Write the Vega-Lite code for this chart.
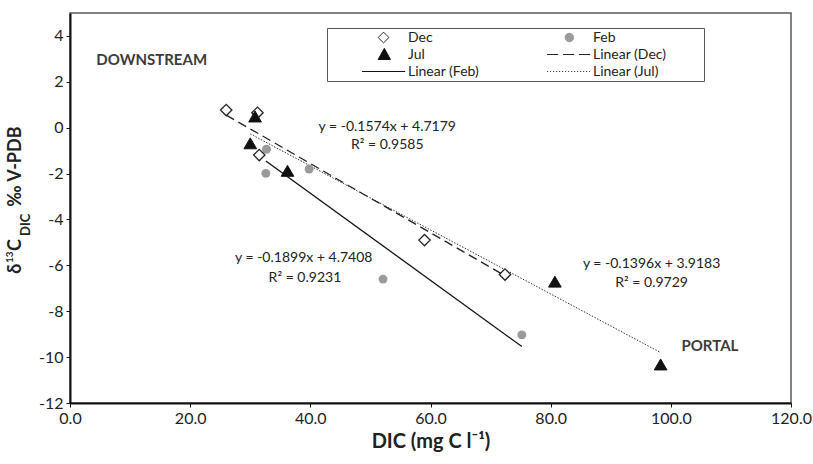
{
  "$schema": "https://vega.github.io/schema/vega-lite/v6.json",
  "width": 721,
  "height": 390,
  "autosize": {"type": "none"},
  "padding": {"left": 70, "top": 13, "right": 22, "bottom": 61},
  "background": "white",
  "config": {
    "view": {"stroke": "#5a5a5a", "strokeWidth": 1.5},
    "font": "Lato"
  },
  "datasets": {
    "points": [
      {"month": "Dec", "dic": 26.0, "d13c": 0.77},
      {"month": "Dec", "dic": 31.2, "d13c": 0.65},
      {"month": "Dec", "dic": 31.5, "d13c": -1.19},
      {"month": "Dec", "dic": 59.0, "d13c": -4.9},
      {"month": "Dec", "dic": 72.4, "d13c": -6.4},
      {"month": "Feb", "dic": 32.7, "d13c": -0.94},
      {"month": "Feb", "dic": 32.6, "d13c": -1.99},
      {"month": "Feb", "dic": 39.8, "d13c": -1.8},
      {"month": "Feb", "dic": 52.1, "d13c": -6.6},
      {"month": "Feb", "dic": 75.2, "d13c": -9.03},
      {"month": "Jul", "dic": 30.8, "d13c": 0.49},
      {"month": "Jul", "dic": 30.0, "d13c": -0.68},
      {"month": "Jul", "dic": 36.2, "d13c": -1.88},
      {"month": "Jul", "dic": 80.7, "d13c": -6.71},
      {"month": "Jul", "dic": 98.3, "d13c": -10.32}
    ],
    "trends": [
      {"fit": "Linear (Dec)", "dic": 26.0, "d13c": 0.55},
      {"fit": "Linear (Dec)", "dic": 72.4, "d13c": -6.45},
      {"fit": "Linear (Feb)", "dic": 32.6, "d13c": -1.45},
      {"fit": "Linear (Feb)", "dic": 75.2, "d13c": -9.54},
      {"fit": "Linear (Jul)", "dic": 30.0, "d13c": -0.27},
      {"fit": "Linear (Jul)", "dic": 98.3, "d13c": -9.8}
    ],
    "equations": [
      {"label": "y = -0.1574x + 4.7179", "dic": 52.8, "d13c": 0.03},
      {"label": "R² = 0.9585", "dic": 52.8, "d13c": -0.75},
      {"label": "y = -0.1899x + 4.7408", "dic": 38.9, "d13c": -5.68},
      {"label": "R² = 0.9231", "dic": 39.1, "d13c": -6.55},
      {"label": "y = -0.1396x + 3.9183", "dic": 96.8, "d13c": -5.94},
      {"label": "R² = 0.9729", "dic": 96.8, "d13c": -6.77}
    ],
    "sites": [
      {"label": "DOWNSTREAM", "dic": 13.6, "d13c": 2.95},
      {"label": "PORTAL", "dic": 106.5, "d13c": -9.51}
    ],
    "ytitle": [
      {"t": "δ", "dic": -9.0, "d13c": -6.37},
      {"t": "C", "dic": -9.0, "d13c": -5.37},
      {"t": "‰ V-PDB", "dic": -9.0, "d13c": -3.45}
    ],
    "ytitlesup": [
      {"t": "13", "dic": -10.0, "d13c": -5.9}
    ],
    "ytitlesub": [
      {"t": "DIC", "dic": -7.4, "d13c": -4.72}
    ]
  },
  "encoding": {
    "x": {
      "field": "dic", "type": "quantitative",
      "scale": {"domain": [0, 120], "nice": false, "zero": false},
      "axis": {
        "title": "DIC (mg C l⁻¹)",
        "values": [0, 20, 40, 60, 80, 100, 120],
        "format": ".1f",
        "grid": false,
        "labelFlush": false,
        "domainColor": "#111111", "domainWidth": 2,
        "tickColor": "#111111", "tickSize": 4, "tickWidth": 1,
        "labelFont": "Lato", "labelFontSize": 16, "labelColor": "#222222", "labelPadding": 3,
        "titleFont": "Lato", "titleFontSize": 20, "titleFontWeight": "bold", "titleColor": "#222222", "titlePadding": 5
      }
    },
    "y": {
      "field": "d13c", "type": "quantitative",
      "scale": {"domain": [-12, 5], "nice": false, "zero": false},
      "axis": {
        "title": null,
        "values": [-12, -10, -8, -6, -4, -2, 0, 2, 4],
        "labelExpr": "'' + datum.value",
        "grid": false,
        "domainColor": "#111111", "domainWidth": 2,
        "tickColor": "#111111", "tickSize": 4, "tickWidth": 1,
        "labelFont": "Lato", "labelFontSize": 16, "labelColor": "#222222", "labelPadding": 3
      }
    }
  },
  "layer": [
    {
      "data": {"name": "trends"},
      "transform": [{"filter": "datum.fit == 'Linear (Dec)'"}],
      "mark": {"type": "line", "stroke": "#222222", "strokeWidth": 1.3, "strokeDash": [9, 5]}
    },
    {
      "data": {"name": "trends"},
      "transform": [{"filter": "datum.fit == 'Linear (Feb)'"}],
      "mark": {"type": "line", "stroke": "#111111", "strokeWidth": 1.3}
    },
    {
      "data": {"name": "trends"},
      "transform": [{"filter": "datum.fit == 'Linear (Jul)'"}],
      "mark": {"type": "line", "stroke": "#333333", "strokeWidth": 1, "strokeDash": [1.5, 1.5]}
    },
    {
      "data": {"name": "points"},
      "transform": [{"filter": "datum.month == 'Feb'"}],
      "mark": {"type": "point", "shape": "circle", "size": 80, "filled": true, "fill": "#9a9a9a", "strokeWidth": 0, "opacity": 1}
    },
    {
      "data": {"name": "points"},
      "transform": [{"filter": "datum.month == 'Dec'"}],
      "mark": {"type": "point", "shape": "diamond", "size": 130, "filled": true, "fill": "white", "stroke": "#222222", "strokeWidth": 1.3, "opacity": 1}
    },
    {
      "data": {"name": "points"},
      "transform": [{"filter": "datum.month == 'Jul'"}],
      "mark": {"type": "point", "shape": "triangle-up", "size": 160, "filled": true, "fill": "#111111", "stroke": "#111111", "strokeWidth": 1, "opacity": 1}
    },
    {
      "data": {"name": "equations"},
      "mark": {"type": "text", "font": "Lato", "fontSize": 14, "color": "#222222", "align": "center", "baseline": "middle"},
      "encoding": {"text": {"field": "label"}}
    },
    {
      "data": {"name": "sites"},
      "mark": {"type": "text", "font": "Lato", "fontSize": 15, "fontWeight": "bold", "color": "#3c3c3c", "align": "center", "baseline": "middle"},
      "encoding": {"text": {"field": "label"}}
    },
    {
      "data": {"name": "ytitle"},
      "mark": {"type": "text", "font": "Lato", "fontSize": 18, "fontWeight": "bold", "color": "#222222", "align": "left", "baseline": "middle", "angle": 270},
      "encoding": {"text": {"field": "t"}}
    },
    {
      "data": {"name": "ytitlesup"},
      "mark": {"type": "text", "font": "Lato", "fontSize": 10, "fontWeight": "bold", "color": "#222222", "align": "left", "baseline": "middle", "angle": 270},
      "encoding": {"text": {"field": "t"}}
    },
    {
      "data": {"name": "ytitlesub"},
      "mark": {"type": "text", "font": "Lato", "fontSize": 13, "fontWeight": "bold", "color": "#222222", "align": "left", "baseline": "middle", "angle": 270},
      "encoding": {"text": {"field": "t"}}
    },
    {
      "data": {"name": "points"},
      "transform": [{"filter": "false"}],
      "mark": {"type": "point", "filled": true, "strokeWidth": 1, "opacity": 1},
      "encoding": {
        "shape": {
          "field": "month", "type": "nominal",
          "scale": {
            "domain": ["Dec", "Jul", "Linear (Feb)", "Feb", "Linear (Dec)", "Linear (Jul)"],
            "range": [
              "M0.43,-0.14L0.57,0L0.43,0.14L0.29,0Z",
              "M0.45,-0.16L0.61,0.13L0.29,0.13Z",
              "M-0.13,0H0.99",
              "M0.56,0A0.11,0.11,0,1,1,0.34,0A0.11,0.11,0,1,1,0.56,0Z",
              "M-0.13,0H0.16M0.285,0H0.575M0.7,0H0.99",
              "M-0.13,0H-0.1M-0.052,0H-0.022M0.026,0H0.056M0.104,0H0.134M0.182,0H0.212M0.26,0H0.29M0.338,0H0.368M0.416,0H0.446M0.494,0H0.524M0.572,0H0.602M0.65,0H0.68M0.728,0H0.758M0.806,0H0.836M0.884,0H0.914M0.962,0H0.99"
            ]
          },
          "legend": {
            "title": null, "orient": "none", "legendX": 257, "legendY": 15, "columns": 2,
            "padding": 1, "strokeColor": "#555555", "fillColor": "white",
            "clipHeight": 17, "rowPadding": 0, "columnPadding": 33, "gridAlign": "each",
            "labelOffset": 2, "symbolSize": 5929, "symbolStrokeWidth": 1,
            "labelFont": "Lato", "labelFontSize": 14, "labelColor": "#222222", "labelLimit": 400,
            "labelExpr": "indexof(['Feb','Linear (Dec)','Linear (Jul)'], datum.label) >= 0 ? datum.label + '\u00a0\u00a0\u00a0\u00a0\u00a0\u00a0\u00a0\u00a0\u00a0\u00a0\u200b' : datum.label"
          }
        },
        "fill": {
          "field": "month", "type": "nominal",
          "scale": {
            "domain": ["Dec", "Jul", "Linear (Feb)", "Feb", "Linear (Dec)", "Linear (Jul)"],
            "range": ["white", "#111111", "transparent", "#9a9a9a", "transparent", "transparent"]
          },
          "legend": {
            "title": null, "orient": "none", "legendX": 257, "legendY": 15, "columns": 2,
            "padding": 1, "strokeColor": "#555555", "fillColor": "white",
            "clipHeight": 17, "rowPadding": 0, "columnPadding": 33, "gridAlign": "each",
            "labelOffset": 2, "symbolSize": 5929, "symbolStrokeWidth": 1,
            "labelFont": "Lato", "labelFontSize": 14, "labelColor": "#222222", "labelLimit": 400,
            "labelExpr": "indexof(['Feb','Linear (Dec)','Linear (Jul)'], datum.label) >= 0 ? datum.label + '\u00a0\u00a0\u00a0\u00a0\u00a0\u00a0\u00a0\u00a0\u00a0\u00a0\u200b' : datum.label"
          }
        },
        "stroke": {
          "field": "month", "type": "nominal",
          "scale": {
            "domain": ["Dec", "Jul", "Linear (Feb)", "Feb", "Linear (Dec)", "Linear (Jul)"],
            "range": ["#222222", "#111111", "#111111", "#9a9a9a", "#222222", "#444444"]
          },
          "legend": {
            "title": null, "orient": "none", "legendX": 257, "legendY": 15, "columns": 2,
            "padding": 1, "strokeColor": "#555555", "fillColor": "white",
            "clipHeight": 17, "rowPadding": 0, "columnPadding": 33, "gridAlign": "each",
            "labelOffset": 2, "symbolSize": 5929, "symbolStrokeWidth": 1,
            "labelFont": "Lato", "labelFontSize": 14, "labelColor": "#222222", "labelLimit": 400,
            "labelExpr": "indexof(['Feb','Linear (Dec)','Linear (Jul)'], datum.label) >= 0 ? datum.label + '\u00a0\u00a0\u00a0\u00a0\u00a0\u00a0\u00a0\u00a0\u00a0\u00a0\u200b' : datum.label"
          }
        }
      }
    }
  ]
}
